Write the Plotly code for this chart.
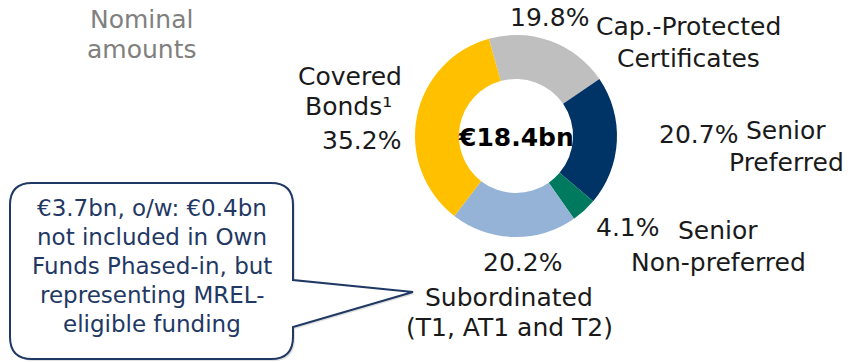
import plotly.graph_objects as go

# Funding mix by instrument type (share of nominal amounts, %)
categories = ["Cap.-Protected Certificates", "Senior Preferred", "Senior Non-preferred",
              "Subordinated (T1, AT1 and T2)", "Covered Bonds"]
shares = [19.8, 20.7, 4.1, 20.2, 35.2]
colors = ["#BFBFBF", "#003366", "#007A5E", "#95B3D7", "#FFC000"]
total_label = "€18.4bn"
callout_lines = ["€3.7bn, o/w: €0.4bn", "not included in Own", "Funds Phased-in, but",
                 "representing MREL-", "eligible funding"]

W, H = 848, 362
FONT = "DejaVu Sans"
TXT = "#1A1A1A"
NAVY = "#1F3864"


def px(x):
    return x / W


def py(y):
    return 1 - y / H


fig = go.Figure()
fig.add_trace(go.Pie(
    labels=categories, values=shares, sort=False, direction="clockwise",
    rotation=-15.6, hole=0.565, textinfo="none", hoverinfo="label+percent",
    marker=dict(colors=colors, line=dict(width=0)),
    domain=dict(x=[px(516 - 101), px(516 + 101)], y=[py(136 + 101), py(136 - 101)]),
))

annotations = []


def label(text, cx, cy, size=25, color=TXT, bold=False, anchor="center"):
    annotations.append(dict(
        text=f"<b>{text}</b>" if bold else text, x=px(cx), y=py(cy),
        xref="paper", yref="paper", xanchor=anchor, yanchor="middle",
        showarrow=False, font=dict(family=FONT, size=size, color=color)))


# chart caption
label("Nominal", 141, 20, color="#808080")
label("amounts", 142, 50, color="#808080")

# centre total
label(total_label, 516, 137, size=25, color="#000000", bold=True)

# slice labels, one line each
pct = {c: f"{v:.1f}%" for c, v in zip(categories, shares)}
label(pct[categories[0]], 549, 18)
label("Cap.-Protected", 688, 27)
label("Certificates", 688, 58)
label(pct[categories[1]], 698, 134)
label("Senior", 786, 130)
label("Preferred", 786, 162)
label(pct[categories[2]], 628, 228)
label("Senior", 718, 230)
label("Non-preferred", 718, 262)
label(pct[categories[3]], 522, 262)
label("Subordinated", 509, 297)
label("(T1, AT1 and T2)", 509, 327)
label("Covered", 350, 76)
label("Bonds¹", 348, 106)
label(pct[categories[4]], 361, 140)

# callout text
for i, line in enumerate(callout_lines):
    label(line, 152, 208 + i * 29, size=23, color=NAVY)

# callout bubble outline (rounded box with pointer)
L, R, T, B, r = 10, 293, 183, 359, 22
pts = [
    ("M", (L + r, T)), ("L", (R - r, T)), ("Q", (R, T), (R, T + r)),
    ("L", (R, 280)), ("L", (413, 292)), ("L", (R, 327)),
    ("L", (R, B - r)), ("Q", (R, B), (R - r, B)), ("L", (L + r, B)),
    ("Q", (L, B), (L, B - r)), ("L", (L, T + r)), ("Q", (L, T), (L + r, T)),
]


def build_path(dx=0, dy=0):
    parts = []
    for cmd, *xy in pts:
        coords = " ".join(f"{px(x + dx):.5f},{py(y + dy):.5f}" for x, y in xy)
        parts.append(f"{cmd}{coords}")
    return " ".join(parts) + " Z"


shapes = [
    dict(type="path", path=build_path(2, 2), xref="paper", yref="paper",
         fillcolor="rgba(0,0,0,0.12)", line=dict(width=0), layer="below"),
    dict(type="path", path=build_path(), xref="paper", yref="paper",
         fillcolor="white", line=dict(color=NAVY, width=2), layer="below"),
]

fig.update_layout(
    width=W, height=H, margin=dict(l=0, r=0, t=0, b=0),
    paper_bgcolor="white", plot_bgcolor="white", showlegend=False,
    annotations=annotations, shapes=shapes,
)

fig.write_html("out.html")
